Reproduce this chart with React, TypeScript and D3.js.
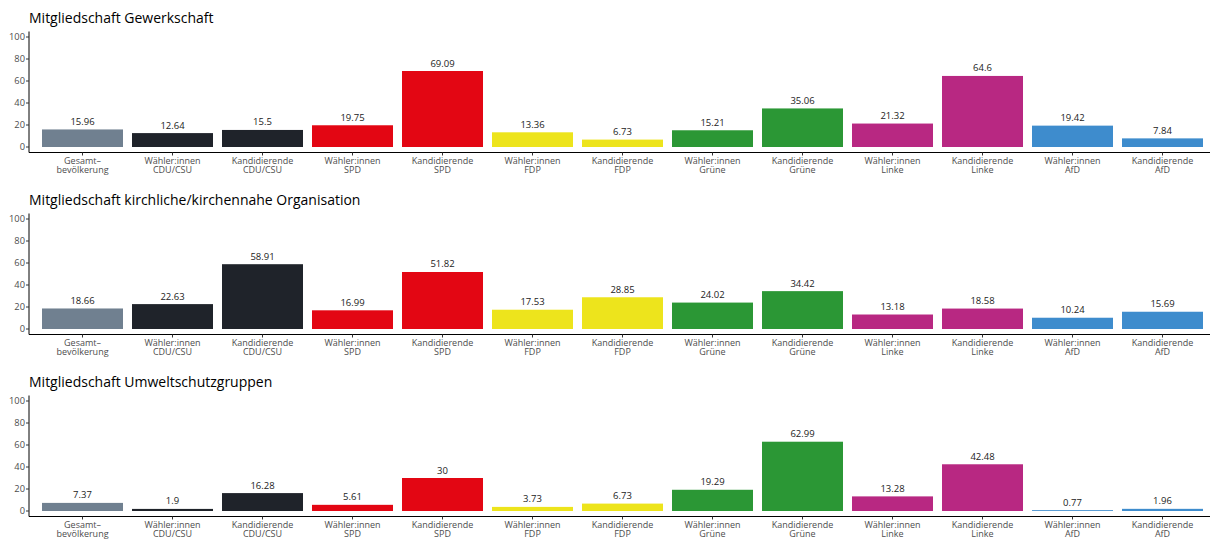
import React from 'react';
import * as d3 from 'd3';

const categories: [string, string][] = [
  ['Gesamt–', 'bevölkerung'],
  ['Wähler:innen', 'CDU/CSU'],
  ['Kandidierende', 'CDU/CSU'],
  ['Wähler:innen', 'SPD'],
  ['Kandidierende', 'SPD'],
  ['Wähler:innen', 'FDP'],
  ['Kandidierende', 'FDP'],
  ['Wähler:innen', 'Grüne'],
  ['Kandidierende', 'Grüne'],
  ['Wähler:innen', 'Linke'],
  ['Kandidierende', 'Linke'],
  ['Wähler:innen', 'AfD'],
  ['Kandidierende', 'AfD'],
];

const barColors = [
  '#708090', '#1f232a', '#1f232a', '#e30613', '#e30613', '#ede41c', '#ede41c',
  '#2b9735', '#2b9735', '#b82882', '#b82882', '#3e8ccd', '#3e8ccd',
];

const titles = [
  'Mitgliedschaft Gewerkschaft',
  'Mitgliedschaft kirchliche/kirchennahe Organisation',
  'Mitgliedschaft Umweltschutzgruppen',
];

const gewerkschaft = [15.96, 12.64, 15.5, 19.75, 69.09, 13.36, 6.73, 15.21, 35.06, 21.32, 64.6, 19.42, 7.84];
const kirche = [18.66, 22.63, 58.91, 16.99, 51.82, 17.53, 28.85, 24.02, 34.42, 13.18, 18.58, 10.24, 15.69];
const umwelt = [7.37, 1.9, 16.28, 5.61, 30, 3.73, 6.73, 19.29, 62.99, 13.28, 42.48, 0.77, 1.96];

const yTicks = [0, 20, 40, 60, 80, 100];

const W = 1212;
const H = 539;
const panelOffset = 182;
const axisX = 29;
const font = '"Open Sans", sans-serif';

const x = d3.scaleBand<number>()
  .domain(d3.range(categories.length))
  .range([28.5, 1216.5])
  .paddingInner(0.1)
  .paddingOuter(0.15);

const Panel: React.FC<{ title: string; values: number[]; top: number }> = ({ title, values, top }) => {
  const y = d3.scaleLinear().domain([-5, 105]).range([top + 152.5, top + 31.5]);
  const base = y(-5);
  return (
    <g>
      <text x={29} y={top + 23} fontSize={14} fill="#000" fontFamily={font}>{title}</text>
      {values.map((v, i) => (
        <g key={i}>
          <rect
            x={x(i)}
            width={x.bandwidth()}
            y={y(v)}
            height={y(0) - y(v)}
            fill={barColors[i]}
          />
          <text
            x={(x(i) as number) + x.bandwidth() / 2}
            y={y(v) - 4.5}
            textAnchor="middle"
            fontSize={9.5}
            fill="#222"
            fontFamily={font}
          >{v}</text>
        </g>
      ))}
      {/* y axis */}
      <line x1={axisX} x2={axisX} y1={y(105)} y2={base} stroke="#000" strokeWidth={1} />
      {yTicks.map(t => (
        <g key={t}>
          <line x1={axisX - 3} x2={axisX} y1={y(t)} y2={y(t)} stroke="#333" strokeWidth={1} />
          <text x={axisX - 4} y={y(t)} dy="0.35em" textAnchor="end" fontSize={9.3} fill="#4d4d4d" fontFamily={font}>{t}</text>
        </g>
      ))}
      {/* x axis */}
      <line x1={axisX} x2={1210} y1={base} y2={base} stroke="#000" strokeWidth={1} />
      {categories.map((c, i) => {
        const cx = (x(i) as number) + x.bandwidth() / 2;
        return (
          <g key={i}>
            <line x1={cx} x2={cx} y1={base} y2={base + 3} stroke="#333" strokeWidth={1} />
            <text x={cx} y={base + 11.3} textAnchor="middle" fontSize={9} fill="#4d4d4d" fontFamily={font}>
              <tspan x={cx}>{c[0]}</tspan>
              <tspan x={cx} dy={8.8}>{c[1]}</tspan>
            </text>
          </g>
        );
      })}
    </g>
  );
};

export default function App() {
  const data = [gewerkschaft, kirche, umwelt];
  return (
    <svg
      width={W}
      height={H}
      style={{ position: 'absolute', left: 0, top: 0, background: '#fff' }}
    >
      <rect width={W} height={H} fill="#fff" />
      {data.map((vals, p) => (
        <Panel key={p} title={titles[p]} values={vals} top={p * panelOffset} />
      ))}
    </svg>
  );
}
